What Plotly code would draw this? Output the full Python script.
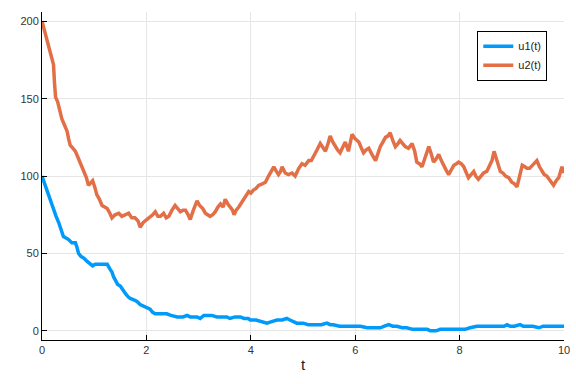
import plotly.graph_objects as go

# ---- data ----
t_u1 = [0.00, 0.04, 0.08, 0.12, 0.16, 0.22, 0.27, 0.32, 0.37, 0.41, 0.46, 0.51, 0.57, 0.64, 0.67,
        0.70, 0.75, 0.80, 0.86, 0.93, 0.97, 1.02, 1.10, 1.18, 1.25, 1.30, 1.34, 1.37, 1.40, 1.45,
        1.50, 1.55, 1.60, 1.65, 1.69, 1.76, 1.82, 1.88, 1.95, 2.01, 2.07, 2.12, 2.17, 2.25, 2.32,
        2.39, 2.47, 2.55, 2.59, 2.70, 2.78, 2.84, 2.90, 2.97, 3.03, 3.10, 3.16, 3.25, 3.35, 3.45,
        3.54, 3.60, 3.70, 3.80, 3.87, 3.95, 3.99, 4.10, 4.20, 4.31, 4.40, 4.50, 4.60, 4.69, 4.75,
        4.82, 4.88, 5.00, 5.10, 5.20, 5.35, 5.46, 5.52, 5.58, 5.70, 5.84, 5.97, 6.10, 6.23, 6.35,
        6.48, 6.56, 6.64, 6.72, 6.80, 6.90, 6.99, 7.10, 7.25, 7.38, 7.44, 7.55, 7.63, 7.80, 7.95,
        8.10, 8.20, 8.33, 8.50, 8.65, 8.78, 8.85, 8.91, 8.97, 9.05, 9.16, 9.22, 9.29, 9.40, 9.52,
        9.60, 9.80, 10.00]
u1 = [100, 96, 92, 88, 84, 78, 74, 70, 65, 61, 60, 59, 57, 57, 54,
      50, 48, 47, 45, 43, 42, 43, 43, 43, 43, 40, 38, 35, 33, 30,
      29, 26, 24, 22, 21, 20, 19, 17, 16, 15, 14, 12, 11, 11, 11,
      11, 10, 9, 9, 9, 10, 9, 9, 9, 8, 10, 10, 10, 9, 9,
      9, 8, 9, 9, 8, 8, 7, 7, 6, 5, 6, 7, 7, 8, 7,
      6, 5, 5, 4, 4, 4, 5, 4, 4, 3, 3, 3, 3, 2, 2,
      2, 3, 4, 3, 3, 2, 2, 1, 1, 1, 0, 0, 1, 1, 1,
      1, 2, 3, 3, 3, 3, 3, 4, 3, 3, 4, 3, 3, 3, 2,
      3, 3, 3]

t_u2 = [0.00, 0.04, 0.08, 0.12, 0.16, 0.19, 0.22, 0.24, 0.26, 0.30, 0.34, 0.38, 0.43, 0.48, 0.51,
        0.54, 0.59, 0.64, 0.69, 0.73, 0.77, 0.80, 0.85, 0.89, 0.93, 0.97, 1.01, 1.05, 1.10, 1.15,
        1.20, 1.25, 1.30, 1.34, 1.40, 1.47, 1.53, 1.60, 1.66, 1.72, 1.78, 1.84, 1.88, 1.94, 2.01,
        2.07, 2.12, 2.17, 2.22, 2.27, 2.33, 2.38, 2.43, 2.49, 2.55, 2.60, 2.65, 2.70, 2.75, 2.80,
        2.84, 2.90, 2.97, 3.02, 3.08, 3.13, 3.18, 3.22, 3.27, 3.32, 3.37, 3.42, 3.47, 3.51, 3.56,
        3.61, 3.65, 3.68, 3.72, 3.77, 3.81, 3.86, 3.91, 3.96, 4.00, 4.05, 4.10, 4.15, 4.22, 4.28,
        4.34, 4.39, 4.44, 4.49, 4.53, 4.57, 4.60, 4.66, 4.72, 4.79, 4.85, 4.92, 4.98, 5.04, 5.11,
        5.16, 5.20, 5.27, 5.33, 5.38, 5.43, 5.48, 5.52, 5.57, 5.62, 5.66, 5.71, 5.76, 5.81, 5.87,
        5.90, 5.94, 6.00, 6.07, 6.12, 6.16, 6.21, 6.26, 6.32, 6.39, 6.44, 6.48, 6.53, 6.58, 6.63,
        6.67, 6.72, 6.77, 6.82, 6.86, 6.91, 6.96, 7.02, 7.09, 7.14, 7.18, 7.23, 7.28, 7.34, 7.38,
        7.41, 7.46, 7.50, 7.55, 7.60, 7.65, 7.69, 7.74, 7.79, 7.84, 7.89, 7.94, 7.98, 8.03, 8.08,
        8.13, 8.17, 8.22, 8.27, 8.31, 8.36, 8.41, 8.46, 8.52, 8.57, 8.62, 8.66, 8.69, 8.72, 8.75,
        8.78, 8.83, 8.88, 8.94, 9.00, 9.05, 9.10, 9.15, 9.20, 9.25, 9.29, 9.34, 9.39, 9.44, 9.48,
        9.53, 9.58, 9.62, 9.67, 9.73, 9.80, 9.85, 9.90, 9.96, 10.00]
u2 = [200, 195, 190, 185, 180, 176, 172, 160, 151, 148, 143, 137, 133, 129, 124,
      120, 118, 116, 112, 109, 106, 103, 99, 94, 96, 97, 93, 88, 85, 81,
      80, 79, 76, 73, 75, 76, 74, 75, 76, 73, 73, 71, 67, 70, 72,
      73, 75, 77, 74, 74, 76, 73, 74, 78, 81, 79, 77, 78, 78, 75,
      72, 78, 84, 81, 79, 76, 75, 74, 75, 77, 80, 82, 80, 85, 82,
      80, 78, 75, 78, 80, 82, 85, 87, 90, 89, 91, 92, 94, 95, 96,
      100, 103, 106, 103, 101, 103, 106, 102, 101, 102, 100, 105, 108, 107, 110,
      110, 113, 117, 121, 118, 116, 121, 126, 122, 119, 117, 115, 119, 122, 116,
      121, 127, 124, 122, 118, 115, 117, 118, 114, 110, 115, 119, 122, 125, 126,
      128, 123, 119, 121, 123, 121, 119, 118, 121, 116, 109, 108, 106, 112, 116,
      119, 114, 109, 111, 114, 110, 107, 104, 101, 104, 107, 108, 109, 108, 106,
      102, 99, 101, 103, 100, 98, 100, 102, 103, 106, 110, 116, 113, 109, 106,
      103, 102, 100, 99, 96, 95, 93, 100, 107, 106, 105, 105, 107, 109, 110,
      106, 103, 101, 100, 97, 94, 97, 99, 106, 102]

x_ticks = [0, 2, 4, 6, 8, 10]
y_ticks = [0, 50, 100, 150, 200]
series_names = ["u1(t)", "u2(t)"]
colors = ["#009AFA", "#E36F47"]

fig = go.Figure()
fig.add_trace(go.Scatter(x=t_u1, y=u1, mode="lines", name=series_names[0],
                         line=dict(color=colors[0], width=3.5)))
fig.add_trace(go.Scatter(x=t_u2, y=u2, mode="lines", name=series_names[1],
                         line=dict(color=colors[1], width=3.5)))

axis_common = dict(
    showgrid=True, gridcolor="#e6e6e6", gridwidth=1,
    zeroline=False, showline=True, linecolor="black", linewidth=1,
    ticks="inside", ticklen=5, tickcolor="black", mirror=False,
    automargin=False,
    tickfont=dict(family="Liberation Sans, Arial, sans-serif", size=11, color="#333333"),
)

fig.update_layout(
    width=576, height=384,
    margin=dict(l=42, r=12, t=12, b=44),
    paper_bgcolor="white", plot_bgcolor="white",
    font=dict(family="Liberation Sans, Arial, sans-serif", color="#222222"),
    xaxis=dict(range=[0, 10], tickvals=x_ticks, ticktext=[str(v) for v in x_ticks],
               title=dict(text="t", font=dict(size=15), standoff=4), **axis_common),
    yaxis=dict(range=[-5.9, 206], tickvals=y_ticks, ticktext=[str(v) for v in y_ticks],
               **axis_common),
    legend=dict(x=0.968, y=0.943, xanchor="right", yanchor="top",
                bgcolor="white", bordercolor="black", borderwidth=1,
                font=dict(size=11, color="#222222"), itemwidth=30,
                tracegroupgap=0),
    showlegend=True,
)

fig.write_html("out.html", config={"displayModeBar": False},
               post_script="document.body.style.margin='0';")
